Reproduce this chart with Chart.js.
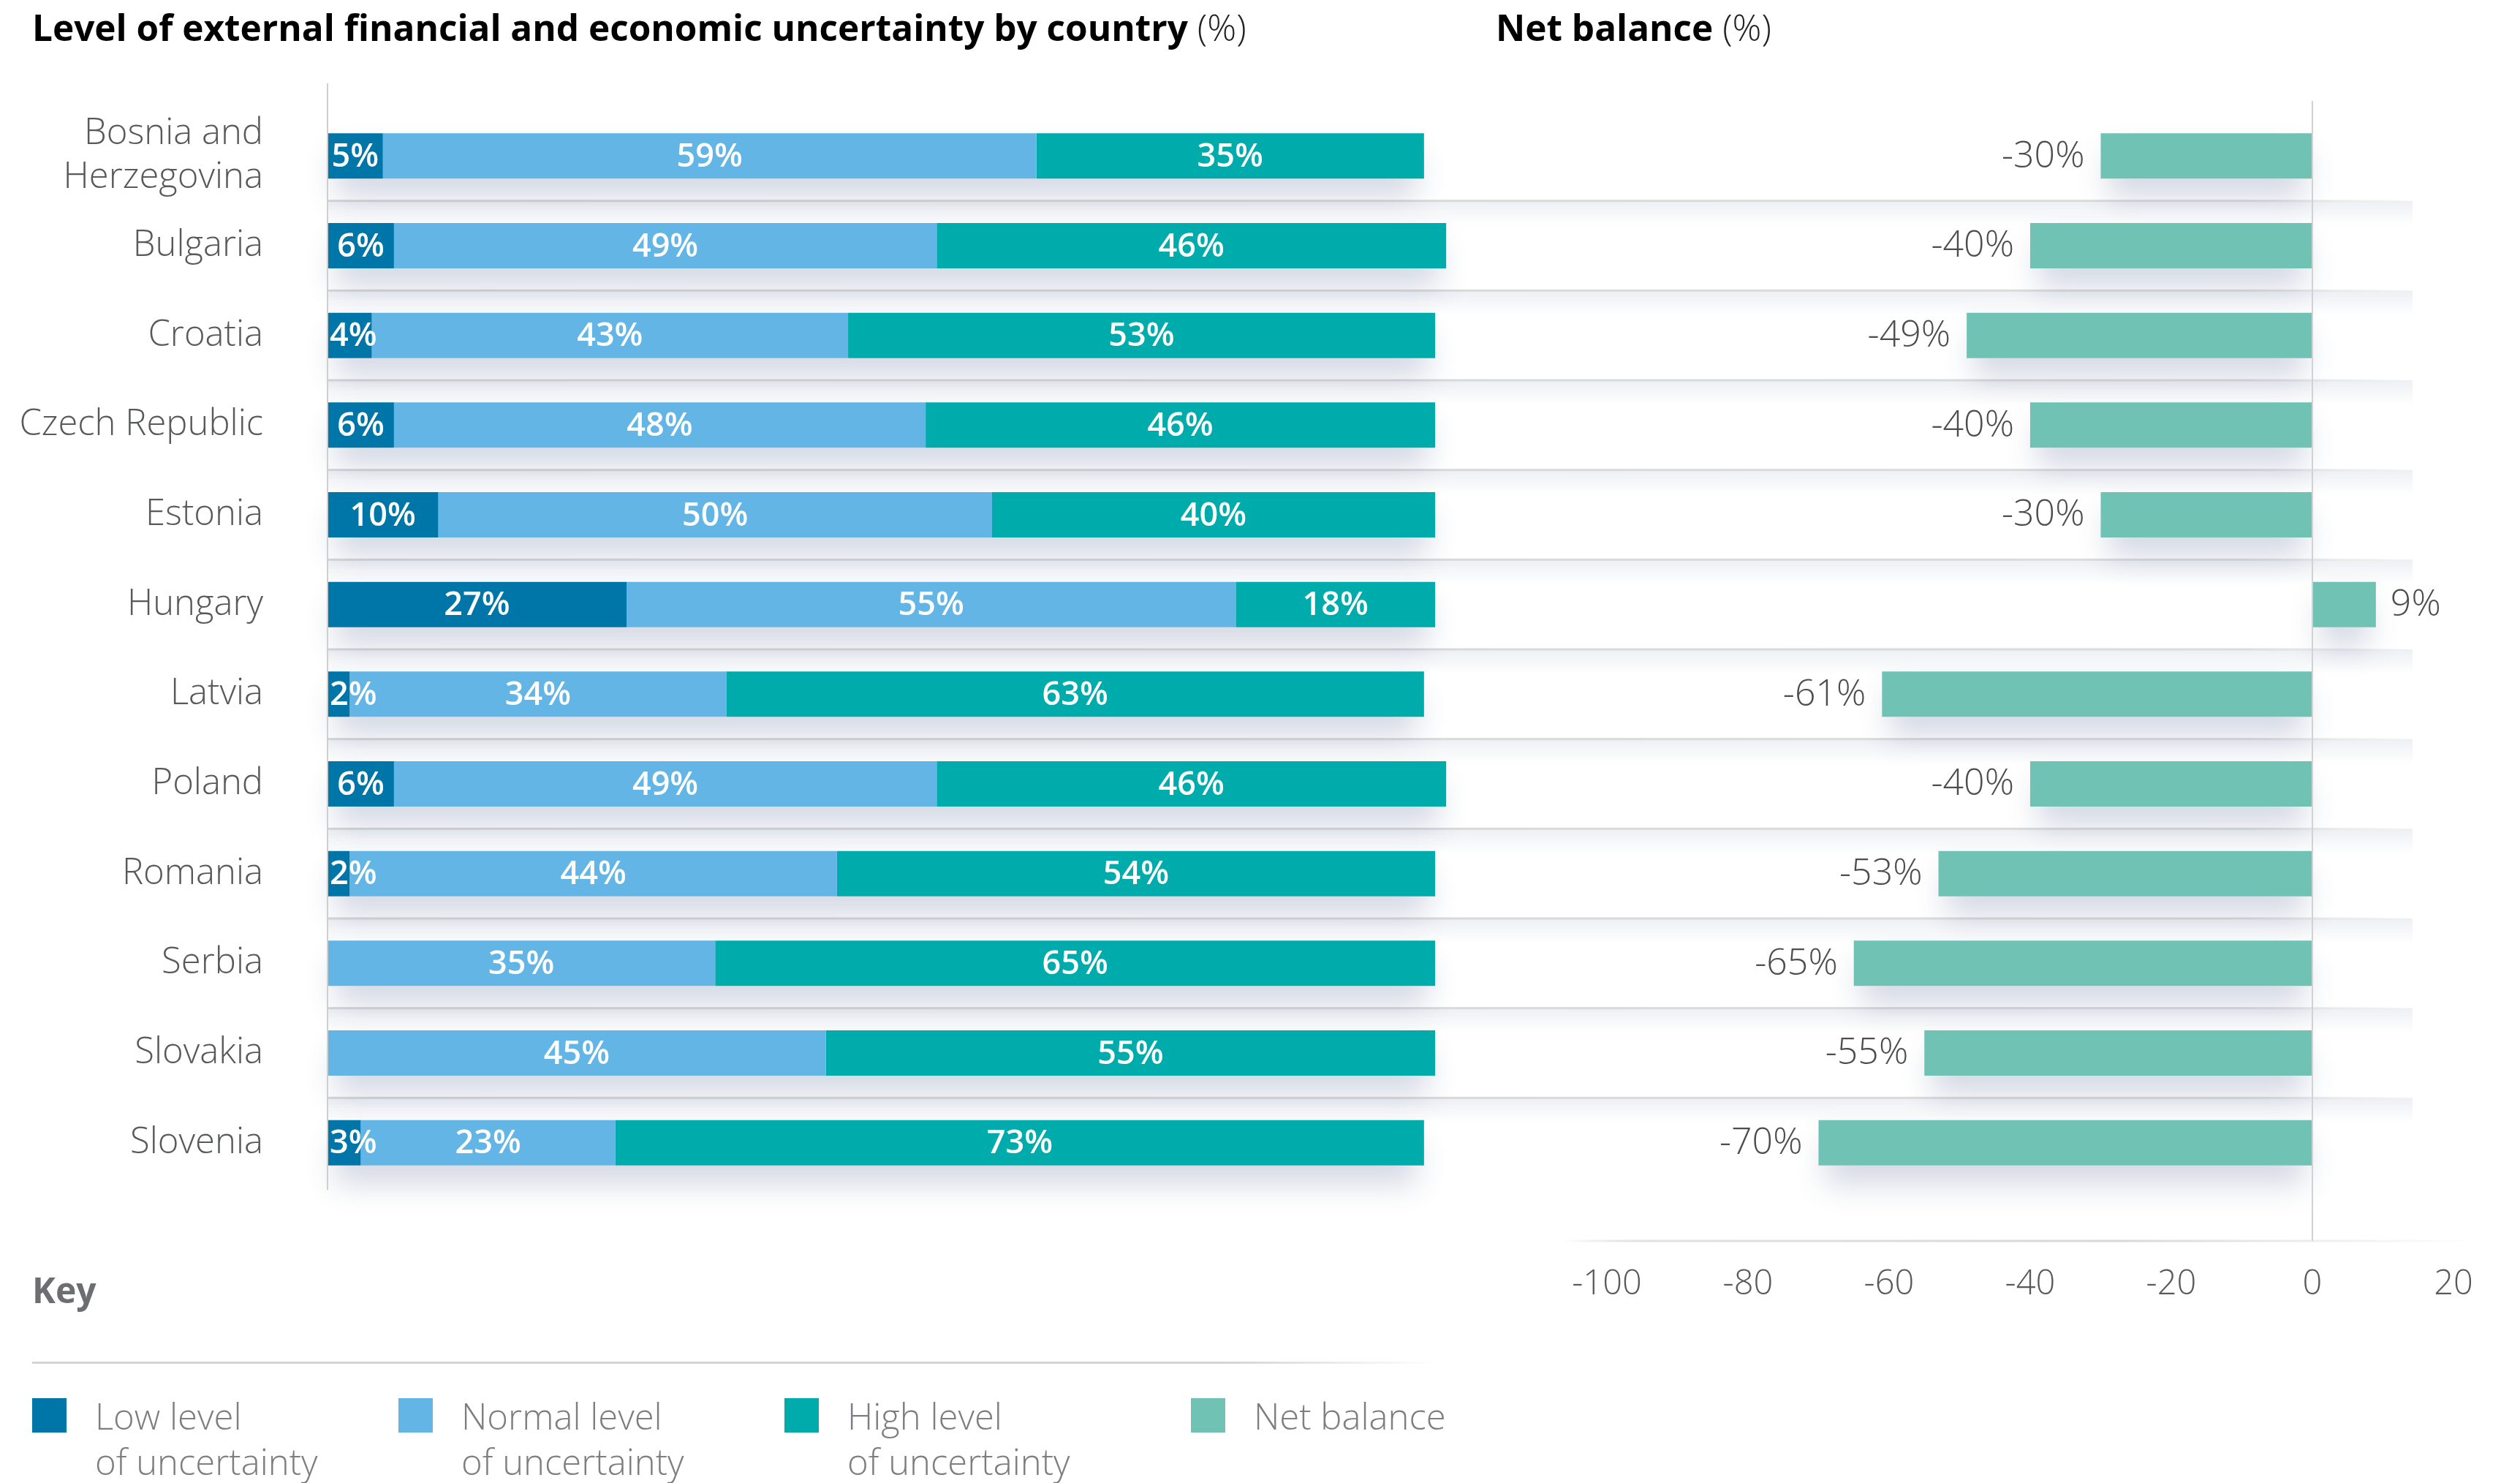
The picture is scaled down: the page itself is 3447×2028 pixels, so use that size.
<!DOCTYPE html>
<html>
<head>
<meta charset="utf-8">
<script src="https://cdn.jsdelivr.net/npm/chart.js@4.4.0/dist/chart.umd.min.js"></script>
<style>
  html, body { margin: 0; padding: 0; background: #fff; }
  body { width: 3447px; height: 2028px; position: relative; overflow: hidden; font-family: 'Open Sans', sans-serif; }
  canvas { position: absolute; left: 0; top: 0; }
  .title { position: absolute; top: 3px; font-size: 49.5px; font-weight: 700; color: #000; white-space: nowrap; }
  .title span { font-weight: 300; color: #222; }
  .key { position: absolute; left: 44px; top: 1731px; font-size: 48px; font-weight: 700; color: #6d6e71; }
  .keyline { position: absolute; left: 44px; top: 1862px; width: 1920px; height: 3px;
    background: linear-gradient(to right, #d4d4d4 0%, #d4d4d4 85%, rgba(212,212,212,0) 100%); }
  .item { position: absolute; top: 1912px; }
  .item .sw { position: absolute; left: 0; top: 0; width: 47px; height: 47px; }
  .item .tx { position: absolute; left: 86px; top: -7px; font-size: 49px; font-weight: 300; color: #7d7e81;
    line-height: 62px; white-space: nowrap; }
</style>
</head>
<body>
<div class="title" style="left:44px">Level of external financial and economic uncertainty by country <span>(%)</span></div>
<div class="title" style="left:2046px">Net balance <span>(%)</span></div>

<canvas id="levels" width="3447" height="1800"></canvas>
<canvas id="balance" width="3447" height="1800"></canvas>

<div class="key">Key</div>
<div class="keyline"></div>
<div id="legend"></div>

<script>
const countries = [
  ['Bosnia and', 'Herzegovina'], 'Bulgaria', 'Croatia', 'Czech Republic', 'Estonia', 'Hungary',
  'Latvia', 'Poland', 'Romania', 'Serbia', 'Slovakia', 'Slovenia'
];
const lowLevel    = [5, 6, 4, 6, 10, 27, 2, 6, 2, 0, 0, 3];
const normalLevel = [59, 49, 43, 48, 50, 55, 34, 49, 44, 35, 45, 23];
const highLevel   = [35, 46, 53, 46, 40, 18, 63, 46, 54, 65, 55, 73];
const netBalance  = [-30, -40, -49, -40, -30, 9, -61, -40, -53, -65, -55, -70];
const balanceTicks = [-100, -80, -60, -40, -20, 0, 20];

const seriesNames = ['Low level\nof uncertainty', 'Normal level\nof uncertainty', 'High level\nof uncertainty', 'Net balance'];
const seriesColors = ['#0076a8', '#62b5e5', '#00abab', '#6fc2b4'];
const legendLeft = [44, 545, 1073, 1629];

const FONT = "'Open Sans', sans-serif";
const LABEL_GREY = '#58595b';

// shared vertical layout so both panels line up row by row
const AREA_TOP = 152;
const AREA_BOTTOM = 1624;
const CANVAS_H = 1800;

// soft shadow under every bar row, drawn before the bars cover it
function rowShadows(chart, ends) {
  const { ctx, scales: { x } } = chart;
  const meta = chart.getDatasetMeta(0);
  ctx.save();
  ctx.shadowColor = 'rgba(60, 80, 130, 0.22)';
  ctx.shadowBlur = 40;
  ctx.shadowOffsetY = 26;
  ctx.fillStyle = '#fff';
  ends.forEach((end, i) => {
    const bar = meta.data[i];
    const h = bar.height;
    const a = x.getPixelForValue(0), b = x.getPixelForValue(end);
    ctx.fillRect(Math.min(a, b) + 10, bar.y - h / 2, Math.abs(b - a) - 20, h);
  });
  ctx.restore();
}

const levelsPlugin = {
  id: 'levelsDecor',
  beforeDatasetsDraw(chart) {
    const { ctx, chartArea, scales: { y } } = chart;
    // row separators running across both panels
    const grad = ctx.createLinearGradient(chartArea.left, 0, 3300, 0);
    grad.addColorStop(0, '#d6d6d6');
    grad.addColorStop(0.92, '#dcdcdc');
    grad.addColorStop(1, 'rgba(220,220,220,0)');
    for (let i = 0; i < countries.length - 1; i++) {
      const yy = (y.getPixelForValue(i) + y.getPixelForValue(i + 1)) / 2;
      const band = ctx.createLinearGradient(0, yy, 0, yy + 34);
      band.addColorStop(0, 'rgba(236,238,243,0.9)');
      band.addColorStop(1, 'rgba(236,238,243,0)');
      ctx.fillStyle = band;
      ctx.fillRect(chartArea.left, yy, 3300 - chartArea.left, 34);
      ctx.fillStyle = grad;
      ctx.fillRect(chartArea.left, yy - 1.5, 3300 - chartArea.left, 3);
    }
    rowShadows(chart, lowLevel.map((v, i) => v + normalLevel[i] + highLevel[i]));
  },
  afterDatasetsDraw(chart) {
    const { ctx, chartArea, scales: { x } } = chart;
    // left axis rule
    ctx.save();
    ctx.strokeStyle = '#cfcfcf';
    ctx.lineWidth = 2;
    ctx.beginPath();
    ctx.moveTo(x.getPixelForValue(0), chartArea.top - 38);
    ctx.lineTo(x.getPixelForValue(0), chartArea.bottom + 3);
    ctx.stroke();

    // white percentage labels inside the segments
    ctx.font = `600 45px ${FONT}`;
    ctx.fillStyle = '#fff';
    ctx.textBaseline = 'middle';
    chart.data.datasets.forEach((ds, di) => {
      chart.getDatasetMeta(di).data.forEach((bar, i) => {
        const v = ds.data[i];
        if (!v) return;
        const txt = v + '%';
        const left = Math.min(bar.x, bar.base), right = Math.max(bar.x, bar.base);
        const w = ctx.measureText(txt).width;
        let cx = (left + right) / 2;
        if (cx - w / 2 < left + 3) cx = left + 3 + w / 2;
        ctx.textAlign = 'center';
        ctx.fillText(txt, cx, bar.y + 2);
      });
    });
    ctx.restore();
  }
};

const balancePlugin = {
  id: 'balanceDecor',
  beforeDatasetsDraw(chart) {
    rowShadows(chart, netBalance);
  },
  afterDatasetsDraw(chart) {
    const { ctx, chartArea, scales: { x } } = chart;
    const axisY = chartArea.bottom + 73;
    const zero = x.getPixelForValue(0);
    ctx.save();
    // zero rule
    ctx.strokeStyle = '#d2d2d2';
    ctx.lineWidth = 2;
    ctx.beginPath();
    ctx.moveTo(zero, chartArea.top - 14);
    ctx.lineTo(zero, axisY);
    ctx.stroke();
    // bottom axis rule, fading at both ends
    const x0 = x.getPixelForValue(-100) - 60, x1 = x.getPixelForValue(20) + 33;
    const g = ctx.createLinearGradient(x0, 0, x1, 0);
    g.addColorStop(0, 'rgba(215,215,215,0)');
    g.addColorStop(0.08, '#e2e2e2');
    g.addColorStop(0.6, '#d8d8d8');
    g.addColorStop(1, 'rgba(215,215,215,0)');
    ctx.fillStyle = g;
    ctx.fillRect(x0, axisY - 1.5, x1 - x0, 3);

    // value labels beside each bar
    ctx.font = `300 50px ${FONT}`;
    ctx.fillStyle = '#4d4d4f';
    ctx.textBaseline = 'middle';
    chart.getDatasetMeta(0).data.forEach((bar, i) => {
      const v = netBalance[i];
      if (v < 0) {
        ctx.textAlign = 'right';
        ctx.fillText(v + '%', bar.x - 22, bar.y + 1);
      } else {
        ctx.textAlign = 'left';
        ctx.fillText(v + '%', bar.x + 20, bar.y + 1);
      }
    });
    ctx.restore();
  }
};

const levelSets = [lowLevel, normalLevel, highLevel].map((data, i) => ({
  label: seriesNames[i].replace('\n', ' '),
  data,
  backgroundColor: seriesColors[i],
  borderWidth: 0,
  barPercentage: 0.505,
  categoryPercentage: 1,
  clip: false
}));

new Chart(document.getElementById('levels'), {
  type: 'bar',
  data: { labels: countries, datasets: levelSets },
  options: {
    indexAxis: 'y',
    responsive: false,
    animation: false,
    devicePixelRatio: 1,
    layout: { padding: { top: AREA_TOP, bottom: CANVAS_H - AREA_BOTTOM, left: 0, right: 3447 - 1963 } },
    plugins: { legend: { display: false }, tooltip: { enabled: false } },
    scales: {
      x: { stacked: true, min: 0, max: 100, display: false },
      y: {
        stacked: true,
        grid: { display: false, drawTicks: false },
        border: { display: false },
        ticks: {
          padding: 88,
          color: LABEL_GREY,
          font: { family: FONT, size: 49, weight: '300', lineHeight: 1.22 }
        },
        afterFit: s => { s.width = 448; }
      }
    }
  },
  plugins: [levelsPlugin]
});

new Chart(document.getElementById('balance'), {
  type: 'bar',
  data: {
    labels: countries,
    datasets: [{
      label: 'Net balance',
      data: netBalance,
      backgroundColor: seriesColors[3],
      borderWidth: 0,
      barPercentage: 0.505,
      categoryPercentage: 1
    }]
  },
  options: {
    indexAxis: 'y',
    responsive: false,
    animation: false,
    devicePixelRatio: 1,
    layout: { padding: { top: AREA_TOP, bottom: 0, left: 2198, right: 91 } },
    plugins: { legend: { display: false }, tooltip: { enabled: false } },
    scales: {
      x: {
        min: balanceTicks[0],
        max: balanceTicks[balanceTicks.length - 1],
        grid: { display: false, drawTicks: false },
        border: { display: false },
        afterBuildTicks: s => { s.ticks = balanceTicks.map(v => ({ value: v })); },
        ticks: {
          padding: 104,
          color: LABEL_GREY,
          font: { family: FONT, size: 47, weight: '300' }
        },
        afterFit: s => { s.height = CANVAS_H - AREA_BOTTOM; s.paddingLeft = 0; s.paddingRight = 0; }
      },
      y: { display: false }
    }
  },
  plugins: [balancePlugin]
});

// key below the panels
const legend = document.getElementById('legend');
seriesNames.forEach((name, i) => {
  const item = document.createElement('div');
  item.className = 'item';
  item.style.left = legendLeft[i] + 'px';
  item.innerHTML = `<div class="sw" style="background:${seriesColors[i]}"></div>` +
    `<div class="tx">${name.replace('\n', '<br>')}</div>`;
  legend.appendChild(item);
});
</script>
</body>
</html>
